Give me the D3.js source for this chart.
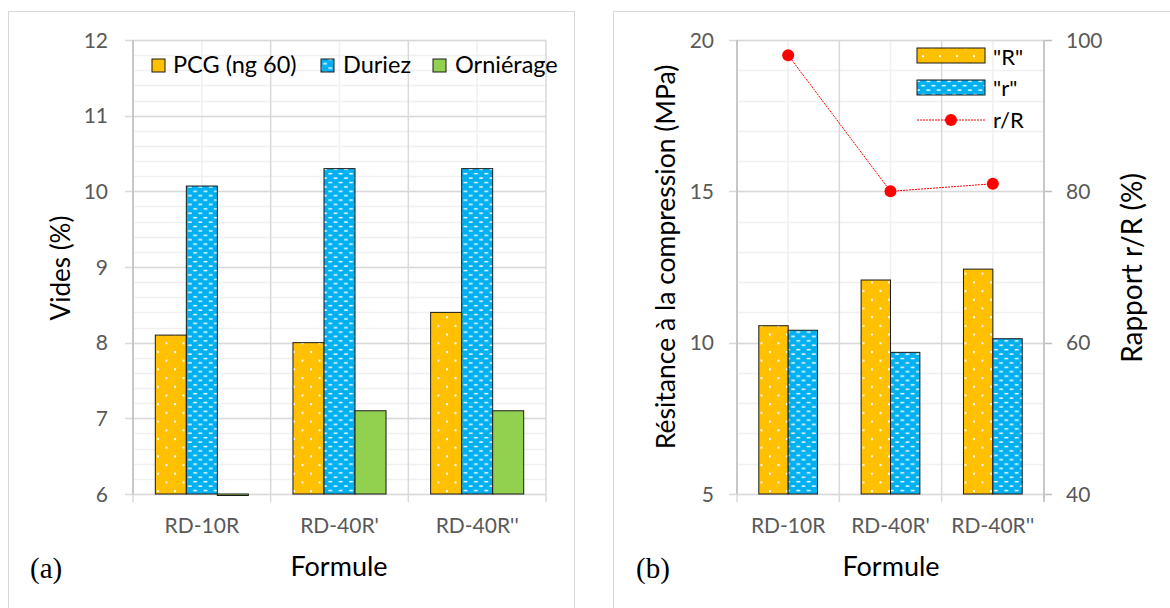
<!DOCTYPE html>
<html lang="fr">
<head>
<meta charset="UTF-8">
<script src="https://d3js.org/d3.v7.min.js"></script>
<title>Vides et compression</title>
<style>
  body { margin: 0; background: #fff; }
  svg text { font-family: Lato, "Open Sans", sans-serif; }
</style>
</head>
<body>
<div id="chart"></div>
<script>

// ---- data ----
var formules = ["RD-10R", "RD-40R'", "RD-40R''"];

// (a) vides (%)
var seriesA = ["PCG (ng 60)", "Duriez", "Orniérage"];
var pcg = [8.1, 8.0, 8.4];
var duriez = [10.07, 10.3, 10.3];
var ornierage = [5.98, 7.1, 7.1];
var ticksA = [6, 7, 8, 9, 10, 11, 12];

// (b) compression (MPa) and ratio (%)
var seriesB = ['"R"', '"r"'];
var bigR = [10.56, 12.07, 12.43];
var smallR = [10.41, 9.68, 10.13];
var ratio = [98, 80, 81];
var ticksB = [5, 10, 15, 20];
var ticksB2 = [40, 60, 80, 100];

var W = 1170, H = 608;
var svg = d3.select("#chart").append("svg")
  .attr("width", W).attr("height", H);

svg.append("rect").attr("width", W).attr("height", H).attr("fill", "#fff");

// fill patterns
var defs = svg.append("defs");
var pDots = defs.append("pattern").attr("id", "dots")
  .attr("patternUnits", "userSpaceOnUse").attr("width", 17).attr("height", 17.4);
pDots.append("rect").attr("width", 17).attr("height", 17.4).attr("fill", "#FFC000");
pDots.append("rect").attr("x", 4).attr("y", 3).attr("width", 2).attr("height", 2).attr("fill", "#fff");
pDots.append("rect").attr("x", 12.5).attr("y", 11.7).attr("width", 2).attr("height", 2).attr("fill", "#fff");

var pDash = defs.append("pattern").attr("id", "dash")
  .attr("patternUnits", "userSpaceOnUse").attr("width", 10.4).attr("height", 8.8);
pDash.append("rect").attr("width", 10.4).attr("height", 8.8).attr("fill", "#00B0F0");
pDash.append("rect").attr("x", 0.8).attr("y", 1.4).attr("width", 3.8).attr("height", 1.4).attr("fill", "#fff");
pDash.append("rect").attr("x", 6).attr("y", 5.8).attr("width", 3.8).attr("height", 1.4).attr("fill", "#fff");

var fills = ["url(#dots)", "url(#dash)", "#92D050"];

// panel frames
svg.append("rect").attr("x", 8.5).attr("y", 11.5).attr("width", 566).attr("height", 620)
  .attr("fill", "none").attr("stroke", "#d9d9d9");
svg.append("rect").attr("x", 613.5).attr("y", 11.5).attr("width", 600).attr("height", 620)
  .attr("fill", "none").attr("stroke", "#d9d9d9");

function grid(g, x, y, minorStep, majors) {
  var d0 = y.domain();
  var minors = d3.range(d0[0], d0[1] + 1e-6, minorStep);
  var xr = x.range();
  g.selectAll(".hmin").data(minors).enter().append("line")
    .attr("x1", xr[0]).attr("x2", xr[1])
    .attr("y1", function(d) { return Math.round(y(d)) + 0.5; })
    .attr("y2", function(d) { return Math.round(y(d)) + 0.5; })
    .attr("stroke", "#f0f0f0").attr("stroke-width", 1.5);
  // vertical lines: centres (light) and boundaries (darker)
  g.selectAll(".vmin").data(x.domain()).enter().append("line")
    .attr("x1", function(d) { return x(d) + x.bandwidth() / 2; })
    .attr("x2", function(d) { return x(d) + x.bandwidth() / 2; })
    .attr("y1", y.range()[1]).attr("y2", y.range()[0])
    .attr("stroke", "#f0f0f0").attr("stroke-width", 1.5);
  var bounds = x.domain().map(function(d) { return x(d); }).concat([xr[1]]);
  g.selectAll(".vmaj").data(bounds).enter().append("line")
    .attr("x1", function(d) { return d; }).attr("x2", function(d) { return d; })
    .attr("y1", y.range()[1]).attr("y2", y.range()[0] + 8)
    .attr("stroke", "#d9d9d9").attr("stroke-width", 1.5);
  g.selectAll(".hmaj").data(majors).enter().append("line")
    .attr("x1", xr[0] - 8).attr("x2", xr[1])
    .attr("y1", function(d) { return Math.round(y(d)) + 0.5; })
    .attr("y2", function(d) { return Math.round(y(d)) + 0.5; })
    .attr("stroke", "#d9d9d9").attr("stroke-width", 1.5);
}

function yLabels(g, y, ticks, x0, anchor) {
  g.selectAll(".yl" + x0).data(ticks).enter().append("text")
    .attr("x", x0).attr("y", function(d) { return y(d); })
    .attr("dy", "0.36em")
    .attr("text-anchor", anchor)
    .attr("fill", "#595959").style("font-size", "21px")
    .text(function(d) { return d; });
}

function xLabels(g, x, yPos) {
  g.selectAll(".xl").data(x.domain()).enter().append("text")
    .attr("x", function(d) { return x(d) + x.bandwidth() / 2; })
    .attr("y", yPos)
    .attr("text-anchor", "middle")
    .attr("fill", "#595959").style("font-size", "21px")
    .text(function(d) { return d; });
}

// ================= (a) =================
var gA = svg.append("g");
var xA = d3.scaleBand().domain(formules).range([133, 546]).padding(0);
var yA = d3.scaleLinear().domain([6, 12]).range([494, 40]);
var x1A = d3.scaleBand().domain(seriesA)
  .range([xA.bandwidth() * 0.162, xA.bandwidth() * 0.838]).padding(0);

grid(gA, xA, yA, 0.2, ticksA);
gA.append("line").attr("x1", 133).attr("x2", 133).attr("y1", 40).attr("y2", 494)
  .attr("stroke", "#bfbfbf").attr("stroke-width", 1.5);

var valsA = [pcg, duriez, ornierage];
seriesA.forEach(function(s, si) {
  gA.selectAll(".barA" + si).data(formules).enter().append("rect")
    .attr("x", function(d) { return xA(d) + x1A(s); })
    .attr("y", function(d, i) { return Math.min(yA(valsA[si][i]), yA(6)); })
    .attr("width", x1A.bandwidth())
    .attr("height", function(d, i) { return Math.abs(yA(6) - yA(valsA[si][i])); })
    .attr("fill", fills[si]).attr("stroke", "#1a1a1a").attr("stroke-width", 1);
});

yLabels(gA, yA, ticksA, 108, "end");
xLabels(gA, xA, 533);

// legend (a)
var legA = [{x: 152, tx: 173}, {x: 321, tx: 343}, {x: 433, tx: 455}];
seriesA.forEach(function(s, i) {
  gA.append("rect").attr("x", legA[i].x).attr("y", 59).attr("width", 13).attr("height", 13)
    .attr("fill", fills[i]).attr("stroke", "#1a1a1a").attr("stroke-width", 1);
  gA.append("text").attr("x", legA[i].tx).attr("y", 73)
    .style("font-size", "23.5px").attr("fill", "#000").text(s);
});

gA.append("text").attr("transform", "translate(61,268) rotate(-90)")
  .attr("text-anchor", "middle").attr("dy", "0.35em")
  .style("font-size", "26px").text("Vides (%)");
gA.append("text").attr("x", 339).attr("y", 576).attr("text-anchor", "middle")
  .style("font-size", "27px").text("Formule");
gA.append("text").attr("x", 30).attr("y", 578)
  .style("font-family", "'Liberation Serif', serif").style("font-size", "29px").text("(a)");

// ================= (b) =================
var gB = svg.append("g");
var xB = d3.scaleBand().domain(formules).range([737, 1044]).padding(0);
var yB = d3.scaleLinear().domain([5, 20]).range([494, 40]);
var yB2 = d3.scaleLinear().domain([40, 100]).range([494, 40]);
var x1B = d3.scaleBand().domain(seriesB)
  .range([xB.bandwidth() * 0.213, xB.bandwidth() * 0.787]).padding(0);

grid(gB, xB, yB, 1, ticksB);
// right axis ticks
gB.selectAll(".rt").data(ticksB2).enter().append("line")
  .attr("x1", 1044).attr("x2", 1052)
  .attr("y1", function(d) { return Math.round(yB2(d)) + 0.5; })
  .attr("y2", function(d) { return Math.round(yB2(d)) + 0.5; })
  .attr("stroke", "#bfbfbf").attr("stroke-width", 1.5);
gB.append("line").attr("x1", 737).attr("x2", 737).attr("y1", 40).attr("y2", 494)
  .attr("stroke", "#bfbfbf").attr("stroke-width", 1.5);
gB.append("line").attr("x1", 1044).attr("x2", 1044).attr("y1", 40).attr("y2", 502)
  .attr("stroke", "#bfbfbf").attr("stroke-width", 1.5);

var valsB = [bigR, smallR];
seriesB.forEach(function(s, si) {
  gB.selectAll(".barB" + si).data(formules).enter().append("rect")
    .attr("x", function(d) { return xB(d) + x1B(s); })
    .attr("y", function(d, i) { return yB(valsB[si][i]); })
    .attr("width", x1B.bandwidth())
    .attr("height", function(d, i) { return yB(5) - yB(valsB[si][i]); })
    .attr("fill", fills[si]).attr("stroke", "#1a1a1a").attr("stroke-width", 1);
});

var line = d3.line()
  .x(function(d, i) { return xB(formules[i]) + xB.bandwidth() / 2; })
  .y(function(d) { return yB2(d); });
gB.append("path").datum(ratio).attr("d", line)
  .attr("fill", "none").attr("stroke", "#ff0000").attr("stroke-width", 1)
  .attr("stroke-dasharray", "2,1");
gB.selectAll(".pt").data(ratio).enter().append("circle")
  .attr("cx", function(d, i) { return xB(formules[i]) + xB.bandwidth() / 2; })
  .attr("cy", function(d) { return yB2(d); })
  .attr("r", 6).attr("fill", "#ff0000");

yLabels(gB, yB, ticksB, 714, "end");
yLabels(gB, yB2, ticksB2, 1066, "start");
xLabels(gB, xB, 533);

// legend (b)
[0, 1].forEach(function(i) {
  gB.append("rect").attr("x", 917).attr("y", 48 + i * 32).attr("width", 68).attr("height", 15)
    .attr("fill", fills[i]).attr("stroke", "#1a1a1a").attr("stroke-width", 1);
  gB.append("text").attr("x", 993).attr("y", 65 + i * 31)
    .style("font-size", "22px").attr("fill", "#000").text(seriesB[i]);
});
gB.append("line").attr("x1", 917).attr("x2", 985).attr("y1", 120).attr("y2", 120)
  .attr("stroke", "#ff0000").attr("stroke-width", 1).attr("stroke-dasharray", "2,1");
gB.append("circle").attr("cx", 951).attr("cy", 120).attr("r", 6).attr("fill", "#ff0000");
gB.append("text").attr("x", 993).attr("y", 128)
  .style("font-size", "22px").attr("fill", "#000").text("r/R");

gB.append("text").attr("transform", "translate(666,257) rotate(-90)")
  .attr("text-anchor", "middle").attr("dy", "0.35em")
  .style("font-size", "26.5px").text("Résitance à la compression (MPa)");
gB.append("text").attr("transform", "translate(1132,268) rotate(-90)")
  .attr("text-anchor", "middle").attr("dy", "0.35em")
  .style("font-size", "28px").text("Rapport r/R (%)");
gB.append("text").attr("x", 891).attr("y", 576).attr("text-anchor", "middle")
  .style("font-size", "27px").text("Formule");
gB.append("text").attr("x", 636).attr("y", 578)
  .style("font-family", "'Liberation Serif', serif").style("font-size", "29px").text("(b)");

</script>
</body>
</html>
